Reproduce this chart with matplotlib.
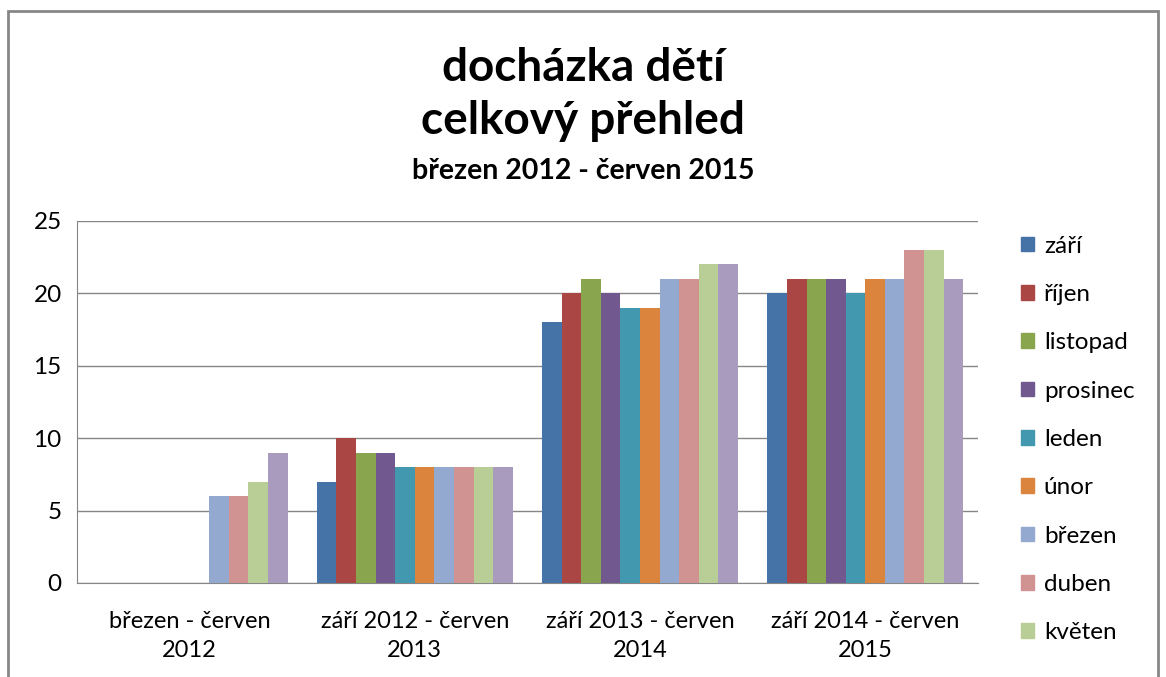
import matplotlib.pyplot as plt
import matplotlib.patches as mpatches
import numpy as np

plt.rcParams['font.family'] = ['Lato', 'DejaVu Sans']

obdobi = ['březen - červen\n2012', 'září 2012 - červen\n2013',
          'září 2013 - červen\n2014', 'září 2014 - červen\n2015']
mesice = ['září', 'říjen', 'listopad', 'prosinec', 'leden', 'únor',
          'březen', 'duben', 'květen', 'červen']
barvy = ['#4572A7', '#AA4643', '#89A54E', '#71588F', '#4198AF', '#DB843D',
         '#93A9CF', '#D19392', '#B9CD96', '#A99BBD']

# hodnoty po mesicich (sloupce = obdobi)
zari = [0, 7, 18, 20]
rijen = [0, 10, 20, 21]
listopad = [0, 9, 21, 21]
prosinec = [0, 9, 20, 21]
leden = [0, 8, 19, 20]
unor = [0, 8, 19, 21]
brezen = [6, 8, 21, 21]
duben = [6, 8, 21, 23]
kveten = [7, 8, 22, 23]
cerven = [9, 8, 22, 21]
data = [zari, rijen, listopad, prosinec, leden, unor, brezen, duben, kveten, cerven]

fig = plt.figure(figsize=(11.66, 6.77), dpi=100)
ax = fig.add_axes([0.066, 0.1389, 0.7727, 0.5347])

x = np.arange(len(obdobi))
n = len(mesice)
w = 1 / (n + 1.5)
handles = []
for i, (vals, c) in enumerate(zip(data, barvy)):
    ax.bar(x + (i - (n - 1) / 2) * w, vals, width=w, color=c, zorder=3)
    handles.append(mpatches.Patch(color=c, label=mesice[i]))

ax.set_xlim(-0.5, 3.5)
ax.set_ylim(0, 25)
ax.set_yticks(range(0, 26, 5))
ax.yaxis.grid(True, color='#868686', linewidth=1)
ax.set_axisbelow(True)
for s in ['top', 'right']:
    ax.spines[s].set_visible(False)
ax.spines['left'].set_color('#868686')
ax.spines['bottom'].set_color('#868686')
ax.set_xticks(x)
ax.set_xticklabels(obdobi, fontsize=17, linespacing=1.5)
ax.tick_params(axis='both', length=0)
ax.tick_params(axis='y', labelsize=17.5, pad=11)
ax.tick_params(axis='x', pad=20)

# legenda - posledni polozka se do grafu nevesla
fig.legend(handles=handles[:9], loc='upper left', bbox_to_anchor=(0.865, 0.67),
           frameon=False, fontsize=17.5, handlelength=0.55, handleheight=0.55,
           handletextpad=0.4, labelspacing=1.125, borderpad=0)

fig.text(0.5, 0.9, 'docházka dětí', ha='center', va='center', fontsize=33, fontweight='bold')
fig.text(0.5, 0.822, 'celkový přehled', ha='center', va='center', fontsize=33, fontweight='bold')
fig.text(0.5, 0.748, 'březen 2012 - červen 2015', ha='center', va='center', fontsize=20.5, fontweight='bold')

# ramecek grafu
fig.patches.append(mpatches.Rectangle((8 / 1166, -0.05), 1150 / 1166, 1.05 - 11 / 677,
                                      transform=fig.transFigure, fill=False,
                                      edgecolor='#878787', linewidth=2))

fig.savefig('out.png', dpi=100)
